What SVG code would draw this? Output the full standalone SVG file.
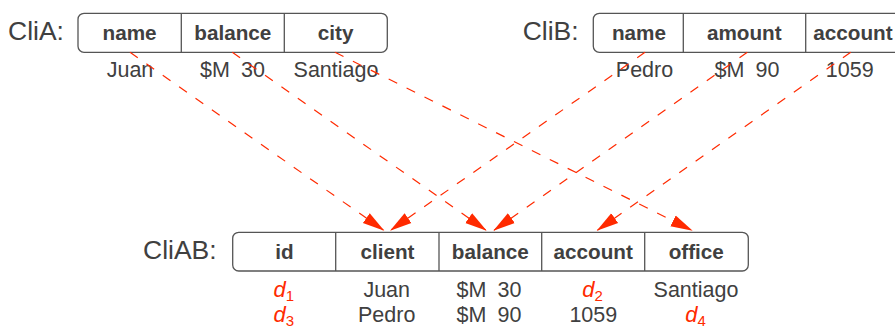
<svg xmlns="http://www.w3.org/2000/svg" width="895" height="327" viewBox="0 0 895 327">
<defs>
<style>
.lbl{font-family:"Liberation Sans",Arial,sans-serif;font-size:26.5px;fill:#404040}
.hd{font-family:"Liberation Sans",Arial,sans-serif;font-size:20.7px;font-weight:bold;fill:#404040;text-anchor:middle}
.dt{font-family:"Liberation Sans",Arial,sans-serif;font-size:21.5px;fill:#404040;text-anchor:middle}
.ws{word-spacing:5px}
.dv{font-family:"Liberation Sans",Arial,sans-serif;font-size:22px;font-style:italic;fill:#ff2a00;text-anchor:middle}
.sub{font-size:15px;font-style:normal}
.box{fill:#fff;stroke:#555;stroke-width:1.3}
.div{stroke:#555;stroke-width:1.3}
.conn{fill:none;stroke:#ff2a00;stroke-width:1.2;stroke-dasharray:9.5 10.5}
</style>
<marker id="ah" markerUnits="userSpaceOnUse" markerWidth="24" markerHeight="14" refX="22" refY="6" orient="auto" viewBox="0 0 24 12">
<path d="M0,0 L22,6 L0,12 z" fill="#ff2a00"/>
</marker>
</defs>

<g id="CliA">
<text class="lbl" x="8" y="40">CliA:</text>
<rect class="box" x="78" y="13.3" width="309.3" height="39" rx="6"/>
<line class="div" x1="181.3" y1="13.3" x2="181.3" y2="52.3"/>
<line class="div" x1="284.3" y1="13.3" x2="284.3" y2="52.3"/>
<text class="hd" x="129.6" y="40">name</text>
<text class="hd" x="232.8" y="40">balance</text>
<text class="hd" x="335.6" y="40">city</text>
<text class="dt" x="130" y="77">Juan</text>
<text class="dt ws" x="232.5" y="77">$M 30</text>
<text class="dt" x="336" y="77">Santiago</text>
</g>

<g id="CliB">
<text class="lbl" x="522.7" y="40">CliB:</text>
<rect class="box" x="593.3" y="13.3" width="320" height="39" rx="6"/>
<line class="div" x1="683.3" y1="13.3" x2="683.3" y2="52.3"/>
<line class="div" x1="805.7" y1="13.3" x2="805.7" y2="52.3"/>
<text class="hd" x="639" y="40">name</text>
<text class="hd" x="744.3" y="40">amount</text>
<text class="hd" x="853" y="40">account</text>
<text class="dt" x="644.5" y="77">Pedro</text>
<text class="dt ws" x="747" y="77">$M 90</text>
<text class="dt" x="849.7" y="77">1059</text>
</g>

<g id="CliAB">
<text class="lbl" x="143" y="259.3">CliAB:</text>
<rect class="box" x="232.7" y="232.3" width="515.6" height="38.7" rx="6"/>
<line class="div" x1="335.7" y1="232.3" x2="335.7" y2="271"/>
<line class="div" x1="439" y1="232.3" x2="439" y2="271"/>
<line class="div" x1="541.7" y1="232.3" x2="541.7" y2="271"/>
<line class="div" x1="644.7" y1="232.3" x2="644.7" y2="271"/>
<text class="hd" x="284.5" y="259">id</text>
<text class="hd" x="387.5" y="259">client</text>
<text class="hd" x="490.3" y="259">balance</text>
<text class="hd" x="593.2" y="259">account</text>
<text class="hd" x="696.3" y="259">office</text>
<text class="dv" x="283.7" y="296.7">d<tspan class="sub" dy="4">1</tspan></text>
<text class="dt" x="386.7" y="296.7">Juan</text>
<text class="dt ws" x="489" y="296.7">$M 30</text>
<text class="dv" x="592.5" y="296.7">d<tspan class="sub" dy="4">2</tspan></text>
<text class="dt" x="696" y="296.7">Santiago</text>
<text class="dv" x="283.7" y="321.7">d<tspan class="sub" dy="4">3</tspan></text>
<text class="dt" x="386.7" y="321.7">Pedro</text>
<text class="dt ws" x="489" y="321.7">$M 90</text>
<text class="dt" x="593.3" y="321.7">1059</text>
<text class="dv" x="695.5" y="321.7">d<tspan class="sub" dy="4">4</tspan></text>
</g>

<g id="connectors">
<line class="conn" x1="130" y1="52.3" x2="384.3" y2="230.7" marker-end="url(#ah)"/>
<line class="conn" x1="232.3" y1="52.3" x2="486.7" y2="230.7" marker-end="url(#ah)"/>
<line class="conn" x1="335" y1="52.3" x2="692.7" y2="230.7" marker-end="url(#ah)"/>
<line class="conn" x1="645" y1="52.3" x2="390" y2="230.7" marker-end="url(#ah)"/>
<line class="conn" x1="747.3" y1="52.3" x2="493.3" y2="230.7" marker-end="url(#ah)"/>
<line class="conn" x1="850.7" y1="52.3" x2="596.7" y2="230.7" marker-end="url(#ah)"/>
</g>
</svg>
